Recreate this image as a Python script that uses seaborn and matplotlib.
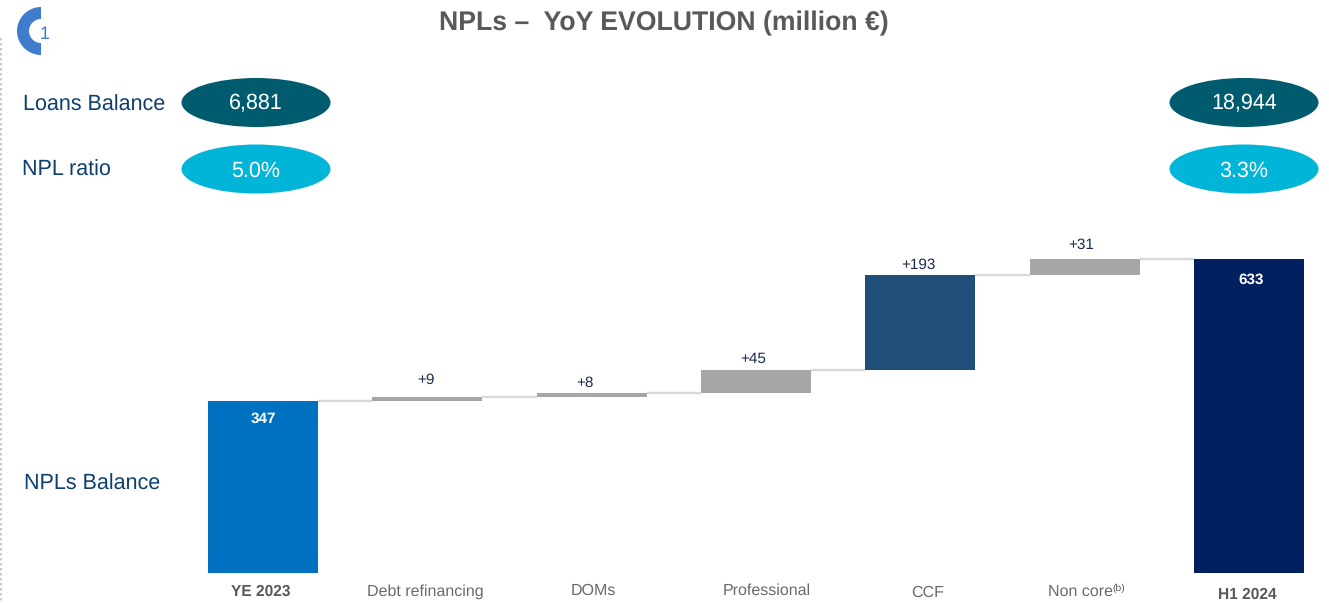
import numpy as np
import pandas as pd
import matplotlib
matplotlib.use("Agg")
import matplotlib.pyplot as plt
from matplotlib.patches import Ellipse, Wedge
import seaborn as sns

categories = ["YE 2023", "Debt refinancing", "DOMs", "Professional", "CCF", "Non core", "H1 2024"]
changes = [347, 9, 8, 45, 193, 31, 633]
is_total = [True, False, False, False, False, False, True]
change_labels = ["347", "+9", "+8", "+45", "+193", "+31", "633"]
bar_colors = ["#0070C0", "#A6A6A6", "#A6A6A6", "#A6A6A6", "#1F4E79", "#A6A6A6", "#002060"]
loans_balance = ["6,881", "18,944"]
npl_ratio = ["5.0%", "3.3%"]
title = "NPLs –  YoY EVOLUTION (million €)"

W, H = 1329, 603
sns.set_theme(style="white")
plt.rcParams["font.family"] = ["Liberation Sans", "DejaVu Sans"]
plt.rcParams["text.hinting"] = "none"

tops, bases = [], []
running = 0
for c, t in zip(changes, is_total):
    if t:
        bases.append(0); tops.append(c); running = c
    else:
        bases.append(running); running += c; tops.append(running)

fig = plt.figure(figsize=(W / 100, H / 100), dpi=100, facecolor="white")
ax = fig.add_axes([0, 0, 1, 1])
df = pd.DataFrame({"cat": categories, "top": tops, "base": bases})
sns.barplot(data=df, x="cat", y="top", hue="cat", palette=bar_colors, legend=False,
            width=110 / 164.33, saturation=1, linewidth=0, ax=ax)
sns.barplot(data=df, x="cat", y="base", color="white", width=111 / 164.33,
            saturation=1, linewidth=0, ax=ax)
step, px_per = 164.33, 172 / 347
ax.set_xlim(-263 / step, (W - 263) / step)
ax.set_ylim(-(H - 573) / px_per, 573 / px_per)
ax.axis("off")

half = 55 / step
for i in range(len(categories) - 1):
    ax.plot([i + half, i + 1 - half], [tops[i], tops[i]], color="#D9D9D9", lw=1.7,
            solid_capstyle="butt")

# overlay in pixel coordinates for page furniture
ov = fig.add_axes([0, 0, 1, 1], facecolor="none")
ov.set_xlim(0, W); ov.set_ylim(H, 0); ov.axis("off")

def label(x, y, s, **kw):
    ov.text(x, y, s, va="center", **kw)

label_y = [419, 380, 383, 359, 265, 245, 280]
label_x = [263, 426, 585, 753, 918, 1081, 1251]
for lab, t, x, y in zip(change_labels, is_total, label_x, label_y):
    if t:
        label(x, y, lab, ha="center", color="white", fontweight="bold", fontsize=11)
    else:
        label(x, y, lab, ha="center", color="#1A2B4C", fontsize=11)

label(664, 23, title, ha="center", fontsize=19.2, fontweight="bold", color="#595959")
label(23, 105, "Loans Balance", fontsize=15.5, color="#0F3F6E")
label(22, 170, "NPL ratio", fontsize=15.5, color="#0F3F6E")
label(24, 484, "NPLs Balance", fontsize=15.5, color="#0F3F6E")

for cx, lb, nr in zip([256, 1244], loans_balance, npl_ratio):
    ov.add_patch(Ellipse((cx, 102.5), 149, 49, fc="#005B6E", ec="none"))
    ov.add_patch(Ellipse((cx, 169), 149, 49, fc="#00B5D8", ec="none"))
    label(cx, 104, lb, ha="center", fontsize=15.5, color="white")
    label(cx, 171, nr, ha="center", fontsize=15.5, color="white")

tick_y = [592, 592, 591, 591, 593, 592, 595]
tick_x = [260.5, 425.5, 593.5, 767, 928, 1048, 1247]
for i, (c, x, y) in enumerate(zip(categories, tick_x, tick_y)):
    if is_total[i]:
        label(x, y, c, ha="center", fontsize=11.2, fontweight="bold", color="#595959")
    elif c == "Non core":
        label(x, y, c, ha="left", fontsize=11.5, color="#6B6B6B")
        label(1112.5, y - 3.5, "(b)", ha="left", fontsize=7.5, color="#5A5A5A")
    else:
        label(x, y, c, ha="center", fontsize=11.5, color="#6B6B6B")

# badge and dotted margin
ov.add_patch(Wedge((41, 31), 24, 90, 270, width=12, fc="#3F7CCB", ec="none"))
label(40, 34, "1", fontsize=13, color="#3F7CCB")
ov.plot([0.5, 0.5], [38, H], color="#BFBFBF", lw=1.2, ls=(0, (1.5, 1.5)))

fig.savefig("out.png", dpi=100, facecolor="white")
